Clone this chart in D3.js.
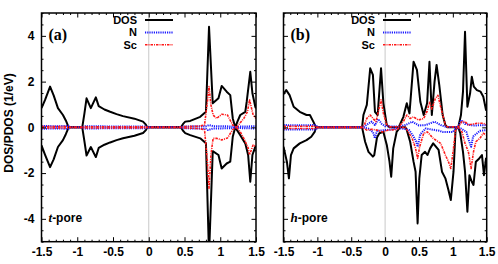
<!DOCTYPE html>
<html><head><meta charset="utf-8">
<script src="https://cdn.jsdelivr.net/npm/d3@7"></script>
<style>body{margin:0;background:#fff}svg{display:block}</style>
</head><body><svg id="c" width="498" height="264"></svg>
<script>
// ---- tick labels / categories ----
const xTicks = [-1.5,-1,-0.5,0,0.5,1,1.5];
const xTickLabels = ["-1.5","-1","-0.5","0","0.5","1","1.5"];
const yTicks = [-4,-2,0,2,4];
const yTickLabels = ["-4","-2","0","2","4"];
const seriesNames = ["DOS","N","Sc"];
const panelLabels = ["(a)","(b)"];
const poreItalic = ["t","h"];
const poreRest = ["-pore","-pore"];
const yTitle = "DOS/PDOS (1/eV)";

// ---- panel (a) t-pore : [energy (eV), value] ----
const aDOSup = [[-1.5,0.84],[-1.45,1.2],[-1.38,1.78],[-1.33,1.4],[-1.27,0.84],[-1.2,0.54],[-1.16,0.3],[-1.12,0],[-0.93,0],[-0.9,0.6],[-0.87,1.27],[-0.81,0.84],[-0.74,1.31],[-0.7,0.93],[-0.62,0.78],[-0.54,0.68],[-0.45,0.58],[-0.36,0.49],[-0.2,0.38],[-0.08,0.25],[-0.04,0.12],[-0.02,0],[0.45,0],[0.48,0.15],[0.51,0.25],[0.58,0.28],[0.72,0.46],[0.8,0.68],[0.843,4.4],[0.895,1.05],[0.975,1.27],[1.02,1.81],[1.09,1.56],[1.14,1.41],[1.175,0.39],[1.21,0],[1.24,0.25],[1.28,0.54],[1.35,0.68],[1.37,1.12],[1.42,2.43],[1.45,1.49],[1.49,0.9],[1.5,0.83]];
const aDOSdn = [[-1.5,-0.79],[-1.45,-1.2],[-1.38,-1.74],[-1.33,-1.4],[-1.27,-0.86],[-1.2,-0.56],[-1.16,-0.3],[-1.12,0],[-0.93,0],[-0.9,-0.6],[-0.87,-1.23],[-0.81,-0.86],[-0.74,-1.3],[-0.7,-0.9],[-0.62,-0.76],[-0.54,-0.66],[-0.45,-0.56],[-0.36,-0.48],[-0.2,-0.37],[-0.08,-0.25],[-0.04,-0.12],[-0.02,0],[0.45,0],[0.48,-0.15],[0.51,-0.25],[0.58,-0.34],[0.72,-0.48],[0.8,-0.7],[0.843,-5.6],[0.895,-1.04],[0.975,-1.21],[1.02,-1.8],[1.09,-1.58],[1.14,-1.5],[1.175,-0.41],[1.21,0],[1.28,-0.34],[1.35,-0.7],[1.39,-1.21],[1.42,-2.38],[1.45,-1.21],[1.49,-0.85],[1.5,-0.86]];
const aNup = [[-1.5,0.06],[-1.3,0.05],[-1.12,0.06],[-1.1,0],[-0.93,0],[-0.9,0.05],[-0.5,0.04],[-0.05,0.04],[0,0],[0.45,0],[0.5,0.04],[0.8,0.05],[0.843,0.1],[0.9,0.05],[1.17,0.04],[1.21,0],[1.25,0.03],[1.5,0.05]];
const aNdn = [[-1.5,-0.06],[-1.3,-0.05],[-1.12,-0.06],[-1.1,0],[-0.93,0],[-0.9,-0.05],[-0.5,-0.04],[-0.05,-0.04],[0,0],[0.45,0],[0.5,-0.04],[0.8,-0.06],[0.83,-0.12],[0.9,-0.05],[1.17,-0.04],[1.21,0],[1.25,-0.03],[1.5,-0.05]];
const aScUp = [[-1.5,0.03],[-1.12,0.03],[-1.1,0],[-0.93,0],[-0.9,0.03],[-0.05,0.02],[0,0],[0.45,0],[0.5,0.03],[0.7,0.05],[0.78,0.1],[0.82,1.12],[0.843,1.78],[0.87,0.98],[0.9,0.54],[0.95,0.39],[1.02,0.57],[1.1,0.54],[1.175,0.1],[1.23,0],[1.28,0.2],[1.33,0.39],[1.38,0.68],[1.41,1.2],[1.46,0.54],[1.5,0.39]];
const aScDn = [[-1.5,-0.03],[-1.12,-0.03],[-1.1,0],[-0.93,0],[-0.9,-0.03],[-0.05,-0.02],[0,0],[0.45,0],[0.5,-0.03],[0.7,-0.05],[0.78,-0.1],[0.82,-1.5],[0.843,-2.67],[0.87,-1.2],[0.9,-0.48],[0.95,-0.48],[1.02,-0.55],[1.1,-0.47],[1.175,-0.1],[1.23,0],[1.28,-0.2],[1.33,-0.48],[1.39,-0.9],[1.41,-1.2],[1.46,-0.77],[1.5,-0.83]];

// ---- panel (b) h-pore ----
const bDOSup = [[-1.5,1.45],[-1.46,1.63],[-1.41,1.41],[-1.35,0.9],[-1.26,0.68],[-1.16,0.54],[-1.11,0.54],[-1.06,0.25],[-1.02,0],[-0.34,0],[-0.32,0.54],[-0.27,0.98],[-0.22,2.58],[-0.18,2.29],[-0.15,0.68],[-0.11,0.54],[-0.06,2.58],[-0.025,1.05],[0.025,0.1],[0.07,0],[0.2,0],[0.27,0.46],[0.32,1.05],[0.36,0.61],[0.42,2.87],[0.47,2.51],[0.52,1.12],[0.57,0.54],[0.62,1.05],[0.655,2.87],[0.69,0.54],[0.73,2.0],[0.76,2.73],[0.8,1.85],[0.85,0.54],[0.89,0.1],[0.92,0],[1.08,0],[1.12,0.54],[1.15,1.56],[1.18,4.18],[1.215,0.9],[1.255,1.49],[1.28,2.21],[1.31,1.78],[1.355,1.63],[1.41,1.56],[1.45,1.34],[1.49,0.76],[1.5,0.83]];
const bDOSdn = [[-1.5,-0.85],[-1.45,-1.5],[-1.42,-2.23],[-1.39,-1.21],[-1.35,-0.92],[-1.26,-0.7],[-1.16,-0.56],[-1.09,-0.41],[-1.04,-0.2],[-1.02,0],[-0.34,0],[-0.295,-0.63],[-0.245,-1.07],[-0.18,-1.28],[-0.16,-1.21],[-0.12,-0.45],[-0.085,-0.26],[-0.025,-0.2],[0.025,-0.77],[0.065,-1.5],[0.09,-2.16],[0.12,-0.92],[0.17,-0.2],[0.22,0],[0.3,0],[0.32,-0.12],[0.37,-0.63],[0.42,-1.5],[0.45,-1.94],[0.48,-4.2],[0.505,-2.23],[0.54,-1.21],[0.59,-1.07],[0.625,-1.21],[0.665,-0.92],[0.71,-0.7],[0.79,-0.99],[0.84,-1.94],[0.89,-2.23],[0.935,-2.74],[0.97,-3.18],[1.01,-1.94],[1.04,-0.12],[1.06,0],[1.08,0],[1.11,-0.26],[1.15,-1.07],[1.18,-1.94],[1.215,-3.69],[1.245,-2.09],[1.28,-2.38],[1.305,-2.52],[1.34,-1.5],[1.39,-1.36],[1.43,-1.21],[1.46,-2.09],[1.49,-1.36],[1.5,-1.4]];
const bNup = [[-1.5,0.1],[-1.3,0.09],[-1.02,0.1],[-1.0,0],[-0.34,0],[-0.28,0.1],[-0.2,0.25],[-0.15,0.1],[-0.1,0.36],[-0.05,0.15],[0.0,0.05],[0.2,0.03],[0.3,0.1],[0.4,0.25],[0.5,0.08],[0.6,0.1],[0.73,0.25],[0.82,0.1],[0.9,0.02],[1.08,0.02],[1.12,0.32],[1.18,0.15],[1.3,0.08],[1.5,0.1]];
const bNdn = [[-1.5,-0.1],[-1.3,-0.09],[-1.02,-0.1],[-1.0,0],[-0.34,0],[-0.25,-0.05],[-0.18,-0.2],[-0.15,-0.48],[-0.12,-0.15],[0.0,-0.12],[0.08,-0.1],[0.2,-0.03],[0.35,-0.1],[0.42,-0.4],[0.46,-0.63],[0.48,-0.85],[0.52,-0.3],[0.6,-0.05],[0.8,-0.15],[0.85,-0.2],[1.0,-0.2],[1.04,-0.05],[1.12,-0.05],[1.2,-0.2],[1.24,-0.6],[1.27,-0.85],[1.3,-0.4],[1.4,-0.15],[1.5,-0.12]];
const bScUp = [[-1.5,0.05],[-1.02,0.05],[-1.0,0],[-0.34,0],[-0.3,0.15],[-0.27,0.39],[-0.22,0.54],[-0.18,0.39],[-0.135,0.25],[-0.1,0.68],[-0.06,1.2],[-0.025,0.61],[0.025,0.1],[0.07,0.02],[0.2,0.03],[0.27,0.25],[0.32,0.54],[0.37,0.39],[0.42,0.46],[0.49,0.32],[0.57,0.39],[0.62,0.7],[0.655,1.1],[0.69,0.8],[0.74,1.25],[0.78,1.4],[0.82,0.9],[0.89,0.1],[0.92,0.02],[1.08,0.02],[1.135,0.25],[1.18,0.25],[1.23,0.1],[1.355,0.18],[1.45,0.18],[1.5,0.1]];
const bScDn = [[-1.5,-0.05],[-1.02,-0.05],[-1.0,0],[-0.34,0],[-0.27,-0.12],[-0.2,-0.08],[-0.12,-0.12],[-0.04,-0.2],[0.05,-0.12],[0.17,-0.1],[0.22,0],[0.3,0],[0.32,-0.1],[0.4,-0.48],[0.45,-0.92],[0.48,-1.36],[0.51,-0.85],[0.57,-0.26],[0.625,-0.2],[0.71,-0.48],[0.82,-0.7],[0.89,-1.21],[0.935,-1.5],[0.97,-1.8],[1.01,-0.92],[1.04,-0.1],[1.08,0],[1.135,-0.2],[1.18,-0.7],[1.23,-1.07],[1.27,-1.8],[1.305,-1.07],[1.34,-0.63],[1.4,-0.48],[1.45,-0.26],[1.5,-0.34]];

// ---- drawing ----
const svg = d3.select("#c");
const SANS = "'Liberation Sans', Arial, Helvetica, sans-serif";
const SERIF = "'Liberation Serif', 'Times New Roman', serif";
const styles = {
  DOS: {stroke:"#000", width:2, dash:null},
  N:   {stroke:"#1a1aff", width:2, dash:"1.2,1"},
  Sc:  {stroke:"#ff1a1a", width:1.6, dash:"2.5,1,1,1"}
};
const plotTop = 13, plotBot = 241.7;
const y = d3.scaleLinear().domain([-5,5]).range([plotBot, plotTop]);

const panels = [
  {x0:41.5, x1:256, series:{DOS:[aDOSup,aDOSdn], N:[aNup,aNdn], Sc:[aScUp,aScDn]}, legendRight:137},
  {x0:283.5, x1:486.7, series:{DOS:[bDOSup,bDOSdn], N:[bNup,bNdn], Sc:[bScUp,bScDn]}, legendRight:375}
];

panels.forEach((p, i) => {
  const x = d3.scaleLinear().domain([-1.5,1.5]).range([p.x0, p.x1]);
  const g = svg.append("g");
  const clipId = "clip"+i;
  svg.append("clipPath").attr("id", clipId).append("rect")
    .attr("x", p.x0).attr("y", plotTop).attr("width", p.x1-p.x0).attr("height", plotBot-plotTop);

  g.append("line").attr("x1", x(0)).attr("x2", x(0)).attr("y1", plotTop).attr("y2", plotBot)
    .attr("stroke", "#c8c8c8").attr("stroke-width", 1);

  const line = d3.line().x(d => x(d[0])).y(d => y(d[1]));
  const plot = g.append("g").attr("clip-path", `url(#${clipId})`);
  seriesNames.forEach(name => {
    const st = styles[name];
    p.series[name].forEach(arr => {
      plot.append("path").attr("d", line(arr)).attr("fill", "none")
        .attr("stroke", st.stroke).attr("stroke-width", st.width)
        .attr("stroke-dasharray", st.dash).attr("stroke-linejoin", "round");
    });
  });

  const minorX = d3.range(-15, 16).map(v => v/10).filter(v => Math.abs(v*2 - Math.round(v*2)) > 1e-6);
  const minorY = d3.range(-10, 11).map(v => v/2).filter(v => Math.abs(v/2 - Math.round(v/2)) > 1e-6);
  const axG = g.append("g");
  const bx = axG.append("g").attr("transform", `translate(0,${plotBot})`)
    .call(d3.axisBottom(x).tickValues(xTicks).tickSize(-4.5).tickPadding(6)
      .tickFormat((d,k) => xTickLabels[k]));
  bx.selectAll("text").attr("font-size", 12).attr("font-weight", "bold").attr("fill", "#000")
    .attr("font-family", SANS);
  axG.append("g").attr("transform", `translate(0,${plotBot})`)
    .call(d3.axisBottom(x).tickValues(minorX).tickSize(-2).tickFormat(""));
  axG.append("g").attr("transform", `translate(0,${plotTop})`)
    .call(d3.axisTop(x).tickValues(xTicks).tickSize(-4.5).tickFormat(""));
  axG.append("g").attr("transform", `translate(0,${plotTop})`)
    .call(d3.axisTop(x).tickValues(minorX).tickSize(-2).tickFormat(""));
  const ly = axG.append("g").attr("transform", `translate(${p.x0},0)`)
    .call(d3.axisLeft(y).tickValues(yTicks).tickSize(-4.5).tickPadding(7)
      .tickFormat((d,k) => i === 0 ? yTickLabels[k] : ""));
  ly.selectAll("text").attr("font-size", 12).attr("font-weight", "bold").attr("fill", "#000")
    .attr("font-family", SANS);
  axG.append("g").attr("transform", `translate(${p.x0},0)`)
    .call(d3.axisLeft(y).tickValues(minorY).tickSize(-2).tickFormat(""));
  axG.append("g").attr("transform", `translate(${p.x1},0)`)
    .call(d3.axisRight(y).tickValues(yTicks).tickSize(-4.5).tickFormat(""));
  axG.append("g").attr("transform", `translate(${p.x1},0)`)
    .call(d3.axisRight(y).tickValues(minorY).tickSize(-2).tickFormat(""));
  axG.selectAll(".domain").remove();
  axG.selectAll(".tick line").attr("stroke", "#000").attr("stroke-width", 1);

  g.append("rect").attr("x", p.x0).attr("y", plotTop).attr("width", p.x1-p.x0).attr("height", plotBot-plotTop)
    .attr("fill", "none").attr("stroke", "#000").attr("stroke-width", 1.5);

  g.append("text").attr("x", p.x0 + 7).attr("y", 40).attr("font-family", SERIF)
    .attr("font-weight", "bold").attr("font-size", 16).text(panelLabels[i]);
  const pt = g.append("text").attr("x", p.x0 + 7).attr("y", 222).attr("font-family", SANS)
    .attr("font-weight", "bold").attr("font-size", 12);
  pt.append("tspan").attr("font-family", SERIF).attr("font-style", "italic").attr("font-size", 13).text(poreItalic[i]);
  pt.append("tspan").text(poreRest[i]);

  seriesNames.forEach((name, k) => {
    const by = 24 + k*12.4;
    g.append("text").attr("x", p.legendRight).attr("y", by).attr("text-anchor", "end")
      .attr("font-family", SANS).attr("font-weight", "bold").attr("font-size", 11).text(name);
    const st = styles[name];
    g.append("line").attr("x1", p.legendRight + 8).attr("x2", p.legendRight + 36)
      .attr("y1", by - 4).attr("y2", by - 4).attr("stroke", st.stroke)
      .attr("stroke-width", st.width).attr("stroke-dasharray", st.dash);
  });
});

svg.append("text").attr("transform", "translate(13,123) rotate(-90)").attr("text-anchor", "middle")
  .attr("font-family", SANS).attr("font-weight", "bold").attr("font-size", 12).text(yTitle);
</script></body></html>
